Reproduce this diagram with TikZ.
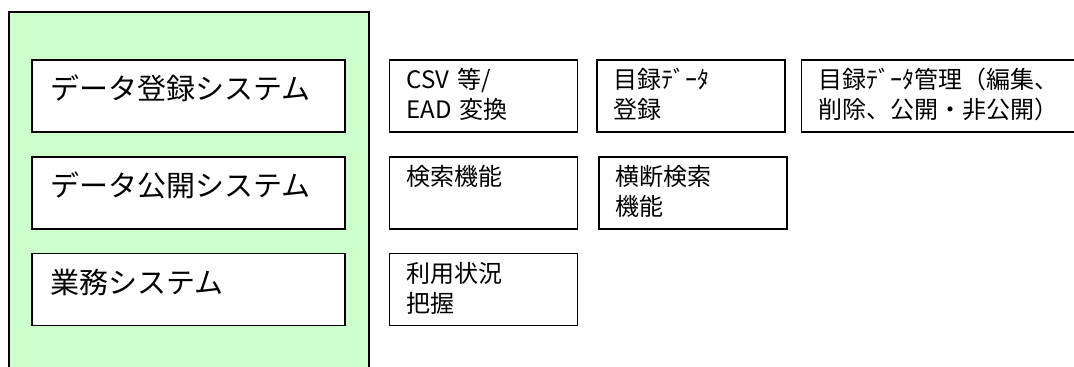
\documentclass[tikz,border=0pt]{standalone}
\usepackage{fontspec}
\setmainfont{Noto Sans CJK JP}
\usepackage{tikz}
\usetikzlibrary{positioning}
\usepackage{xcolor}
\definecolor{panelgreen}{HTML}{CCFFCC}

\begin{document}
\begin{tikzpicture}[
x=0.5pt, y=-0.5pt,
node distance=11.75pt,
panel/.style={draw,
line width=0.7pt,
fill=panelgreen},
sysbox/.style={draw,
rectangle,
line width=0.7pt,
fill=white,
minimum width=156.5pt,
minimum height=36pt,
inner xsep=9pt, inner ysep=0pt,
text width=138.5pt,
text height=20pt, text depth=16pt,
align=left,
font=\fontsize{14.5pt}{17pt}\selectfont},
funcbox/.style={draw,
rectangle,
line width=0.7pt,
minimum width=94pt,
minimum height=36pt,
inner xsep=8.5pt, inner ysep=0pt,
text width=77pt,
text height=14.5pt, text depth=21.5pt,
align=left,
font=\fontsize{12pt}{15pt}\selectfont},
widebox/.style={funcbox,
minimum width=137.5pt,
text width=120.5pt}
]

\useasboundingbox (0,0) rectangle (1074,367);
\clip (0,0) rectangle (1074,367);

\draw[panel] (9,12) rectangle (369,380);

\node[sysbox] (reg) at (188.5,96) {データ登録システム};
\node[sysbox, below=of reg] (pub) {データ公開システム};
\node[sysbox, below=of pub] (biz) {業務システム};

\node[funcbox, right=21.5pt of reg] (conv) {CSV 等/\\EAD 変換};
\node[funcbox, right=9pt of conv] (entry) {目録ﾃﾞｰﾀ\\登録};
\node[widebox, right=7.5pt of entry] (manage) {目録ﾃﾞｰﾀ管理（編集、\\削除、公開・非公開）};

\node[funcbox, right=21.5pt of pub] (search) {検索機能};
\node[funcbox, right=10pt of search] (cross) {横断検索\\機能};

\node[funcbox, right=21.5pt of biz] (usage) {利用状況\\把握};

\end{tikzpicture}
\end{document}
